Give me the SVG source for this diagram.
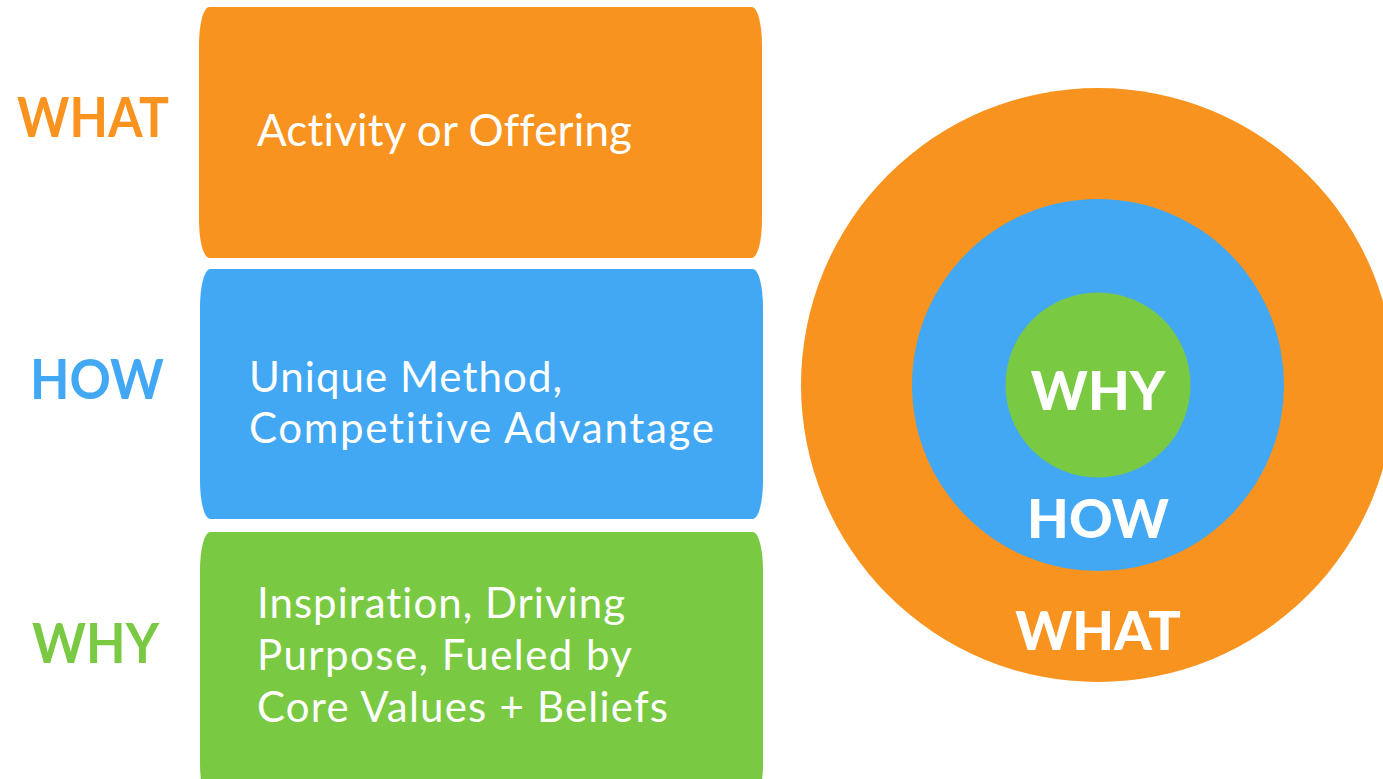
<svg xmlns="http://www.w3.org/2000/svg" width="1383" height="779" viewBox="0 0 1383 779">
  <style>
    .orange { fill: #F8931F; }
    .blue { fill: #42A8F3; }
    .green { fill: #7AC943; }
    text { font-variant-ligatures: none; font-feature-settings: "liga" 0, "dlig" 0; }
    .side { font-family: Lato, "Liberation Sans", sans-serif; font-weight: 700; font-size: 55px; }
    .body { font-family: Lato, "Liberation Sans", sans-serif; font-weight: 400; font-size: 42px; fill: #FFFFFF; }
    .ring { font-family: Lato, "Liberation Sans", sans-serif; font-weight: 900; font-size: 54px; fill: #FFFFFF; text-anchor: middle; }
  </style>
  <rect width="1383" height="779" fill="#FFFFFF"/>

  <!-- stacked layers -->
  <g id="what-layer">
    <rect class="orange" x="199" y="7" width="563" height="251" rx="10" ry="38"/>
    <text class="side orange" x="17" y="137" textLength="152" lengthAdjust="spacingAndGlyphs">WHAT</text>
    <text class="body" x="257" y="146" style="font-size:44px" textLength="375" lengthAdjust="spacing">Activity or Offering</text>
  </g>
  <g id="how-layer">
    <rect class="blue" x="200" y="269" width="563" height="250" rx="10" ry="38"/>
    <text class="side blue" x="30" y="399" textLength="134" lengthAdjust="spacingAndGlyphs">HOW</text>
    <text class="body" x="249" y="392" textLength="313" lengthAdjust="spacing">Unique Method,</text>
    <text class="body" x="249" y="443" textLength="465" lengthAdjust="spacing">Competitive Advantage</text>
  </g>
  <g id="why-layer">
    <rect class="green" x="200" y="532" width="563" height="270" rx="10" ry="38"/>
    <text class="side green" x="32" y="663" textLength="127" lengthAdjust="spacingAndGlyphs">WHY</text>
    <text class="body" x="257" y="618" textLength="368" lengthAdjust="spacing">Inspiration, Driving</text>
    <text class="body" x="257" y="670" textLength="375" lengthAdjust="spacing">Purpose, Fueled by</text>
    <text class="body" x="257" y="722" textLength="411" lengthAdjust="spacing">Core Values + Beliefs</text>
  </g>

  <!-- golden circle -->
  <g id="circle-what">
    <circle class="orange" cx="1098" cy="385" r="297"/>
    <text class="ring" x="1098" y="650">WHAT</text>
  </g>
  <g id="circle-how">
    <circle class="blue" cx="1098" cy="385" r="186"/>
    <text class="ring" x="1098" y="538">HOW</text>
  </g>
  <g id="circle-why">
    <circle class="green" cx="1098" cy="385" r="92.5"/>
    <text class="ring" x="1098" y="410">WHY</text>
  </g>
  <g id="connectors"/>
</svg>
